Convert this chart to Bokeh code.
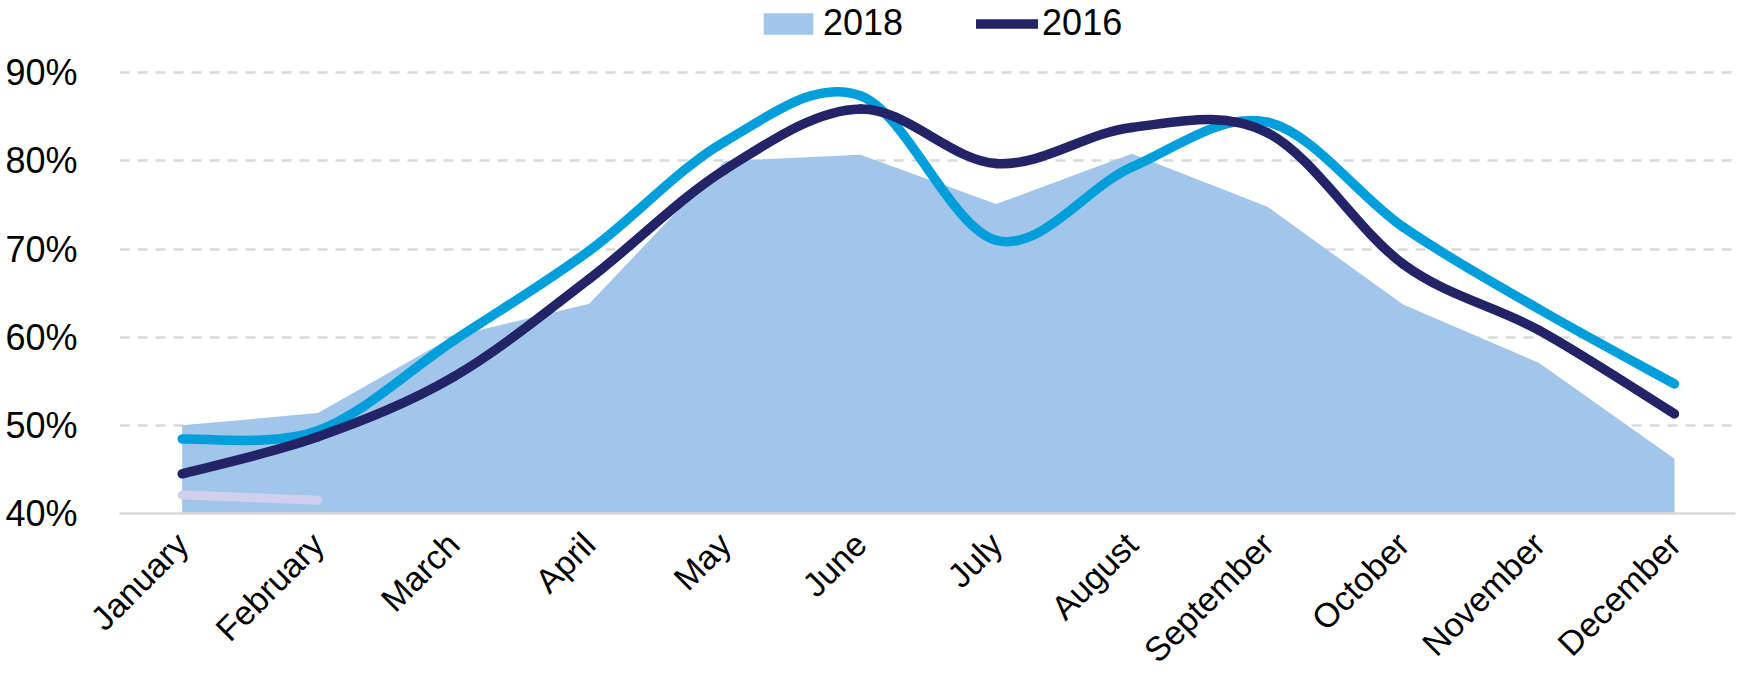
import math
from bokeh.plotting import figure
from bokeh.models import (Range1d, FixedTicker, CustomJSTickFormatter, Legend,
                          LegendItem, ColumnDataSource)
from bokeh.embed import file_html
from bokeh.resources import INLINE

# ---------------- data ----------------
months = ["January", "February", "March", "April", "May", "June", "July",
          "August", "September", "October", "November", "December"]
area_2018 = [50.0, 51.4, 60.1, 63.8, 80.0, 80.7, 75.1, 80.8, 74.8, 63.7, 57.1, 46.2]
line_2016 = [44.5, 48.7, 55.5, 66.6, 79.0, 85.9, 79.7, 83.8, 83.2, 68.3, 60.8, 51.3]
line_cyan = [48.45, 49.4, 59.6, 69.8, 82.2, 87.4, 71.0, 79.3, 84.4, 72.5, 63.2, 54.7]
line_lav = [42.1, 41.5]
y_ticks = [40, 50, 60, 70, 80, 90]

AREA = "#a2c6e9"
CYAN = "#009fdc"
NAVY = "#232368"
LAV = "#d0cfee"
GRID = "#d9d9d9"
FONT = "Liberation Sans"

x_idx = list(range(len(months)))

p = figure(width=1739, height=686, output_backend="svg", toolbar_location=None,
           x_range=Range1d(-0.462, 11.45), y_range=Range1d(40, 98.2),
           min_border_left=119, min_border_right=4, min_border_top=0,
           min_border_bottom=173)
p.outline_line_color = None
p.background_fill_color = "white"
p.border_fill_color = "white"


def smooth_segments(xs, ys):
    """Catmull-Rom style Bezier segments through the data points."""
    n = len(xs)
    out = dict(x0=[], y0=[], x1=[], y1=[], cx0=[], cy0=[], cx1=[], cy1=[])
    for i in range(n - 1):
        xm, ym = (xs[i - 1], ys[i - 1]) if i > 0 else (xs[i], ys[i])
        xp, yp = (xs[i + 2], ys[i + 2]) if i + 2 < n else (xs[i + 1], ys[i + 1])
        out["x0"].append(xs[i]); out["y0"].append(ys[i])
        out["x1"].append(xs[i + 1]); out["y1"].append(ys[i + 1])
        out["cx0"].append(xs[i] + (xs[i + 1] - xm) / 6.0)
        out["cy0"].append(ys[i] + (ys[i + 1] - ym) / 6.0)
        out["cx1"].append(xs[i + 1] - (xp - xs[i]) / 6.0)
        out["cy1"].append(ys[i + 1] - (yp - ys[i]) / 6.0)
    return ColumnDataSource(out)


# area 2018
r_area = p.varea(x=x_idx, y1=[40] * len(months), y2=area_2018, fill_color=AREA)

# lavender short line
p.line(x=x_idx[:len(line_lav)], y=line_lav, line_color=LAV, line_width=9,
       line_cap="round")

# cyan smooth line
p.bezier(x0="x0", y0="y0", x1="x1", y1="y1", cx0="cx0", cy0="cy0", cx1="cx1",
         cy1="cy1", source=smooth_segments(x_idx, line_cyan), line_color=CYAN,
         line_width=9.5, line_cap="round")

# navy smooth line (2016)
r_navy = p.bezier(x0="x0", y0="y0", x1="x1", y1="y1", cx0="cx0", cy0="cy0",
                  cx1="cx1", cy1="cy1", source=smooth_segments(x_idx, line_2016),
                  line_color=NAVY, line_width=9.5, line_cap="round")

# axes
p.yaxis.ticker = FixedTicker(ticks=y_ticks)
p.yaxis.formatter = CustomJSTickFormatter(code="return tick.toFixed(0) + '%';")
p.yaxis.axis_line_color = None
p.yaxis.major_tick_line_color = None
p.yaxis.minor_tick_line_color = None
p.yaxis.major_label_text_font = FONT
p.yaxis.major_label_text_font_size = "36px"
p.yaxis.major_label_text_color = "black"
p.yaxis.major_label_standoff = 36

p.xaxis.ticker = FixedTicker(ticks=x_idx)
p.xaxis.major_label_overrides = {i: m for i, m in enumerate(months)}
p.xaxis.major_label_orientation = math.pi / 4
p.xaxis.axis_line_color = GRID
p.xaxis.axis_line_width = 2.5
p.xaxis.major_tick_line_color = None
p.xaxis.minor_tick_line_color = None
p.xaxis.major_label_text_font = FONT
p.xaxis.major_label_text_font_size = "34px"
p.xaxis.major_label_text_color = "black"
p.xaxis.major_label_standoff = 19

p.xgrid.grid_line_color = None
p.ygrid.ticker = FixedTicker(ticks=y_ticks[1:])
p.ygrid.grid_line_color = GRID
p.ygrid.grid_line_width = 2.5
p.ygrid.grid_line_dash = "10 8"

legend = Legend(items=[LegendItem(label="2018", renderers=[r_area]),
                       LegendItem(label="2016", renderers=[r_navy])],
                orientation="horizontal", location=(638, 469),
                glyph_width=62, glyph_height=27, label_standoff=4, spacing=73,
                padding=0, margin=0, border_line_color=None,
                background_fill_alpha=0, label_text_font=FONT,
                label_text_font_size="36px", label_text_color="black")
p.add_layout(legend, "center")

open("out.html", "w").write(file_html(p, INLINE))
